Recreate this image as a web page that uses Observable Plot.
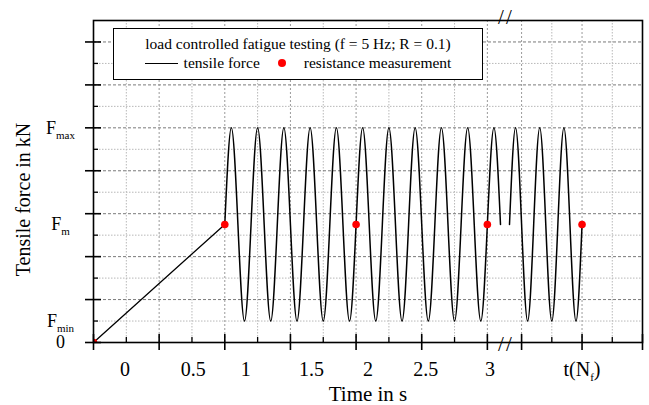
<!DOCTYPE html>
<html><head><meta charset="utf-8">
<script src="https://cdn.jsdelivr.net/npm/d3@7"></script>
<script src="https://cdn.jsdelivr.net/npm/@observablehq/plot@0.6"></script>
<style>
body{margin:0;background:#fff;}
#wrap{position:relative;width:649px;height:405px;font-family:"Liberation Serif","Times New Roman",serif;}
#wrap svg{position:absolute;left:0;top:0;}
#legend{position:absolute;left:113px;top:28px;width:368px;height:50px;border:1.5px solid #000;background:#fff;font-size:15.5px;color:#000;}
#legend .l1{position:absolute;left:0;right:0;top:6px;text-align:center;white-space:nowrap;}
#legend .l2{position:absolute;left:0;right:0;top:25px;display:flex;justify-content:center;align-items:center;white-space:nowrap;}
#legend .ls{display:inline-block;width:33px;height:0;border-top:1.5px solid #000;margin-right:6px;}
#legend .ld{display:inline-block;width:8px;height:8px;border-radius:50%;background:#ff0000;margin:0 18px 0 18px;}
</style></head>
<body><div id="wrap"></div>
<script>
// ---- data ----
const Fmax = 5, Fm = 2.75, Fmin = 0.5;           // force levels (major grid units)
const rampT = [0, 1];
const rampF = [0, 2.75];
const segmentStart = [1.0, 3.4];                   // oscillation segments (start at Fm)
const segmentEnd = [3.1, 4.0];                     // (end at Fm)
const peakT = [1.05, 1.25, 1.45, 1.65, 1.85, 2.05, 2.25, 2.45, 2.65, 2.85, 3.05, 3.45, 3.65, 3.85];
const troughT = [1.15, 1.35, 1.55, 1.75, 1.95, 2.15, 2.35, 2.55, 2.75, 2.95, 3.55, 3.75, 3.95];
const measureT = [0, 1, 2, 3, 4];
const measureF = [0, 2.75, 2.75, 2.75, 2.75];
const xMajor = [0, 0.5, 1, 1.5, 2, 2.5, 3, 3.5, 4, 4.5];
const xMinor = [0.25, 0.75, 1.25, 1.75, 2.25, 2.75, 3.75, 4.25];
const xTickLabels = ["0", "0.5", "1", "1.5", "2", "2.5", "3", "t(N_f)"];
const xTickLabelAt = [0.24, 0.76, 1.16, 1.66, 2.09, 2.53, 3.02, 4.0];
const yMajor = [0, 1, 2, 3, 4, 5, 6, 7];
const yMinor = [0.5, 1.5, 2.5, 3.5, 4.5, 5.5, 6.5];
const yTickLabels = ["0", "F_min", "F_m", "F_max"];
const yTickLabelAt = [0, 0.5, 2.75, 5];
const breakAt = 3.25;
const xTitle = "Time in s";
const yTitle = "Tensile force in kN";
const legendTitle = "load controlled fatigue testing (f = 5 Hz; R = 0.1)";
const seriesNames = ["tensile force", "resistance measurement"];

// ---- tables built from the arrays ----
const ramp = rampT.map((t, i) => ({t, F: rampF[i]}));
const osc = [];
segmentStart.forEach((s, k) => {
  const e = segmentEnd[k];
  const pts = [{t: s, F: Fm}];
  peakT.filter(t => t > s && t < e).forEach(t => pts.push({t, F: Fmax}));
  troughT.filter(t => t > s && t < e).forEach(t => pts.push({t, F: Fmin}));
  pts.push({t: e, F: Fm});
  pts.sort((a, b) => a.t - b.t).forEach(p => osc.push({...p, seg: k}));
});
const meas = measureT.map((t, i) => ({t, F: measureF[i]}));
const xLab = xTickLabels.map((label, i) => ({label, at: xTickLabelAt[i]}));
const yLab = yTickLabels.map((label, i) => ({label, at: yTickLabelAt[i]}));

const W = 649, H = 405, mL = 93, mR = 7, mT = 20, mB = 63;
const font = "Liberation Serif, Times New Roman, serif";
const noText = () => "";
const slash = () => "/";

const svg = Plot.plot({
  width: W, height: H, marginLeft: mL, marginRight: mR, marginTop: mT, marginBottom: mB,
  style: {fontFamily: font, fontSize: "18px", background: "transparent", color: "#000", overflow: "visible"},
  x: {type: "linear", domain: [0, segmentEnd[0], segmentStart[1], 4.5], range: [mL, 500, 509, W - mR], axis: null},
  y: {domain: [0, 7.5], axis: null},
  marks: [
    Plot.ruleY(yMinor, {stroke: "#b8b8b8", strokeWidth: 1, strokeDasharray: "1.5,1.5"}),
    Plot.ruleX(xMinor, {stroke: "#b8b8b8", strokeWidth: 1, strokeDasharray: "1.5,1.5"}),
    Plot.ruleY(yMajor.slice(1), {stroke: "#7a7a7a", strokeWidth: 1, strokeDasharray: "3,2"}),
    Plot.ruleX(xMajor.slice(1, -1), {stroke: "#9a9a9a", strokeWidth: 1, strokeDasharray: "2,2"}),
    Plot.line(ramp, {x: "t", y: "F", stroke: "#000", strokeWidth: 1.3}),
    Plot.line(osc, {x: "t", y: "F", z: "seg", stroke: "#000", strokeWidth: 1.5, curve: "monotone-x"}),
    Plot.dot(meas, {x: "t", y: "F", r: 3.8, fill: "#ff0000", clip: true}),
    Plot.frame({stroke: "#000", strokeWidth: 1.6}),
    Plot.axisX({ticks: xMajor, tickSize: 16, dy: -8, tickFormat: noText, label: null, strokeWidth: 1.6}),
    Plot.axisX({ticks: xMinor, tickSize: 5, dy: -5, tickFormat: noText, label: null, strokeWidth: 1.3}),
    Plot.axisY({ticks: yMajor, tickSize: 16, dx: 8, tickFormat: noText, label: null, strokeWidth: 1.6}),
    Plot.axisY({ticks: yMinor, tickSize: 5, dx: 5, tickFormat: noText, label: null, strokeWidth: 1.3}),
    Plot.text(xLab, {x: "at", text: "label", frameAnchor: "bottom", lineAnchor: "middle", textAnchor: "middle", dy: 27, fontSize: 20, fill: "#000"}),
    Plot.text(yLab, {y: "at", text: "label", frameAnchor: "left", lineAnchor: "middle", dx: -33, textAnchor: "middle", fontSize: 18, fill: "#000"}),
    Plot.text([xTitle], {frameAnchor: "bottom", lineAnchor: "middle", textAnchor: "middle", dy: 52, fontSize: 21, fill: "#000"}),
    Plot.text([yTitle], {frameAnchor: "left", lineAnchor: "middle", textAnchor: "middle", dx: -70, dy: 18, rotate: -90, fontSize: 20, fill: "#000"}),
    Plot.text([breakAt], {x: d => d, text: slash, frameAnchor: "bottom", lineAnchor: "middle", textAnchor: "middle", dx: -4, dy: 2, fontSize: 21, fill: "#000"}),
    Plot.text([breakAt], {x: d => d, text: slash, frameAnchor: "bottom", lineAnchor: "middle", textAnchor: "middle", dx: 4, dy: 2, fontSize: 21, fill: "#000"}),
    Plot.text([breakAt], {x: d => d, text: slash, frameAnchor: "top", lineAnchor: "middle", textAnchor: "middle", dx: -4, dy: -3, fontSize: 21, fill: "#000"}),
    Plot.text([breakAt], {x: d => d, text: slash, frameAnchor: "top", lineAnchor: "middle", textAnchor: "middle", dx: 4, dy: -3, fontSize: 21, fill: "#000"})
  ]
});

// subscripts: "F_max" -> F + subscript "max"
svg.querySelectorAll("text").forEach(t => {
  if (t.querySelector("tspan")) return;
  const s = t.textContent;
  if (!s.includes("_")) return;
  const parts = s.split(/_([A-Za-z]+)/);
  t.textContent = "";
  parts.forEach((p, i) => {
    if (!p) return;
    const ts = document.createElementNS("http://www.w3.org/2000/svg", "tspan");
    ts.textContent = p;
    if (i % 2 === 1) { ts.setAttribute("font-size", "11"); ts.setAttribute("dy", "5"); }
    else if (i > 0) { ts.setAttribute("dy", "-5"); }
    t.appendChild(ts);
  });
});

const wrap = document.getElementById("wrap");
wrap.appendChild(svg);

const leg = document.createElement("div");
leg.id = "legend";
const l1 = document.createElement("div"); l1.className = "l1"; l1.textContent = legendTitle;
const l2 = document.createElement("div"); l2.className = "l2";
const ls = document.createElement("span"); ls.className = "ls";
const n1 = document.createElement("span"); n1.textContent = seriesNames[0];
const ld = document.createElement("span"); ld.className = "ld";
const n2 = document.createElement("span"); n2.textContent = seriesNames[1];
l2.append(ls, n1, ld, n2);
leg.append(l1, l2);
wrap.appendChild(leg);
</script>
</body></html>
